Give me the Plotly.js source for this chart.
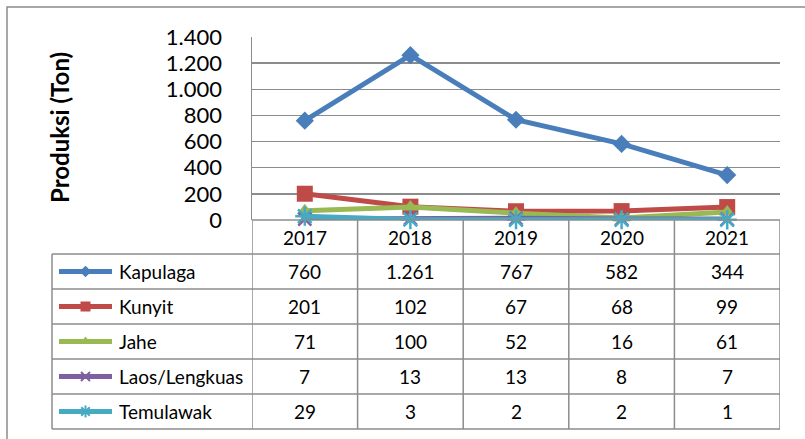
<!DOCTYPE html>
<html>
<head>
<meta charset="utf-8">
<script src="https://cdn.plot.ly/plotly-3.0.1.min.js"></script>
<style>html,body{margin:0;padding:0;background:#fff;}#chart{width:805px;height:439px;}</style>
</head>
<body>
<div id="chart"></div>
<script>
const years = ['2017', '2018', '2019', '2020', '2021'];
const seriesNames = ['Kapulaga', 'Kunyit', 'Jahe', 'Laos/Lengkuas', 'Temulawak'];
const kapulaga = [760, 1261, 767, 582, 344];
const kunyit = [201, 102, 67, 68, 99];
const jahe = [71, 100, 52, 16, 61];
const laos = [7, 13, 13, 8, 7];
const temulawak = [29, 3, 2, 2, 1];
const yTicks = [0, 200, 400, 600, 800, 1000, 1200, 1400];
const yTitle = 'Produksi (Ton)';

const values = [kapulaga, kunyit, jahe, laos, temulawak];
const colors = ['#4A7EBB', '#BE4B48', '#98B954', '#7D60A0', '#46AAC5'];
const symbols = ['diamond', 'square', 'triangle-up', 'x-thin', 'asterisk'];
const mainSizes = [14, 16, 14, 13, 16];
const legSizes = [9, 10, 10, 9, 10];

const W = 805, H = 439;
const px = v => v / W;
const py = v => 1 - v / H;
const FONT = 'Lato, "Open Sans", sans-serif';

function fmt(v) { return String(v).replace(/\B(?=(\d{3})+(?!\d))/g, '.'); }

const traces = [];
values.forEach((vals, i) => {
  const thin = symbols[i] === 'x-thin' || symbols[i] === 'asterisk';
  traces.push({
    type: 'scatter', mode: 'lines+markers', name: seriesNames[i],
    x: years, y: vals, xaxis: 'x', yaxis: 'y', cliponaxis: false,
    line: {color: colors[i], width: 5},
    marker: {symbol: symbols[i], size: mainSizes[i], color: colors[i],
             line: {color: colors[i], width: thin ? 2.5 : 0}},
    showlegend: false, hoverinfo: 'skip'
  });
});
// legend samples in the data table
values.forEach((vals, i) => {
  const thin = symbols[i] === 'x-thin' || symbols[i] === 'asterisk';
  traces.push({
    type: 'scatter', mode: 'lines', x: [0, 1], y: [i, i], xaxis: 'x2', yaxis: 'y2',
    cliponaxis: false, line: {color: colors[i], width: 5}, showlegend: false, hoverinfo: 'skip'
  });
  traces.push({
    type: 'scatter', mode: 'markers', x: [0.5], y: [i], xaxis: 'x2', yaxis: 'y2',
    cliponaxis: false,
    marker: {symbol: symbols[i], size: legSizes[i], color: colors[i],
             line: {color: colors[i], width: thin ? 2 : 0}},
    showlegend: false, hoverinfo: 'skip'
  });
});

const gridC = '#8C8C8C';
const shapes = [];
// outer chart border
shapes.push({type: 'rect', xref: 'paper', yref: 'paper', x0: px(7), x1: 1.05, y0: -0.05, y1: py(7),
  line: {color: gridC, width: 1.5}});
// header row lines
const rowTop = 220, headBot = 254, rowH = 35, nRows = seriesNames.length;
const tableBot = headBot + rowH * nRows;
for (let c = 0; c <= years.length; c++) {
  shapes.push({type: 'line', xref: 'x', yref: 'paper', x0: c - 0.5, x1: c - 0.5,
    y0: py(rowTop), y1: py(tableBot), line: {color: gridC, width: 1.5}});
}
shapes.push({type: 'line', xref: 'x', yref: 'paper', x0: -0.5, x1: years.length - 0.5,
  y0: py(rowTop), y1: py(rowTop), line: {color: gridC, width: 1.5}});
for (let r = 0; r <= nRows; r++) {
  shapes.push({type: 'line', xref: 'paper', yref: 'paper', x0: px(52), x1: px(780),
    y0: py(headBot + r * rowH), y1: py(headBot + r * rowH), line: {color: gridC, width: 1.5}});
}
shapes.push({type: 'line', xref: 'paper', yref: 'paper', x0: px(52), x1: px(52),
  y0: py(headBot), y1: py(tableBot), line: {color: gridC, width: 1.5}});

const annotations = [];
years.forEach((yr, c) => {
  annotations.push({xref: 'x', yref: 'paper', x: c, y: py(237.5), text: yr, showarrow: false,
    xanchor: 'center', yanchor: 'middle', font: {family: FONT, size: 19, color: '#000'}});
});
values.forEach((vals, r) => {
  annotations.push({xref: 'paper', yref: 'y2', x: px(117), y: r, text: seriesNames[r], showarrow: false,
    xanchor: 'left', yanchor: 'middle', font: {family: FONT, size: 19, color: '#000'}});
  vals.forEach((v, c) => {
    annotations.push({xref: 'x', yref: 'y2', x: c, y: r, text: fmt(v), showarrow: false,
      xanchor: 'center', yanchor: 'middle', font: {family: FONT, size: 19, color: '#000'}});
  });
});
annotations.push({xref: 'paper', yref: 'paper', x: px(60), y: py(128), text: '<b>' + yTitle + '</b>',
  textangle: -90, showarrow: false, xanchor: 'center', yanchor: 'middle',
  font: {family: FONT, size: 24, color: '#000'}});

const layout = {
  width: W, height: H, margin: {l: 0, r: 0, t: 0, b: 0, pad: 0},
  paper_bgcolor: '#fff', plot_bgcolor: '#fff', separators: ',.',
  showlegend: false,
  xaxis: {type: 'category', domain: [px(252), px(780)], range: [-0.5, 4.5],
    showticklabels: false, showgrid: false, zeroline: false, showline: false, fixedrange: true},
  yaxis: {domain: [py(220), py(37)], range: [0, 1400], tickvals: yTicks, tickformat: ',d',
    showgrid: true, gridcolor: gridC, gridwidth: 1.5, zeroline: false,
    showline: true, linecolor: gridC, linewidth: 1.5, ticks: '', ticklabelstandoff: 24,
    tickfont: {family: FONT, size: 22, color: '#000'}, fixedrange: true},
  xaxis2: {domain: [px(59), px(112)], range: [0, 1], anchor: 'y2', visible: false, fixedrange: true},
  yaxis2: {domain: [py(tableBot), py(headBot)], range: [nRows - 0.5, -0.5], anchor: 'x2',
    visible: false, fixedrange: true},
  shapes: shapes, annotations: annotations
};

Plotly.newPlot('chart', traces, layout, {displayModeBar: false, staticPlot: true});
</script>
</body>
</html>
